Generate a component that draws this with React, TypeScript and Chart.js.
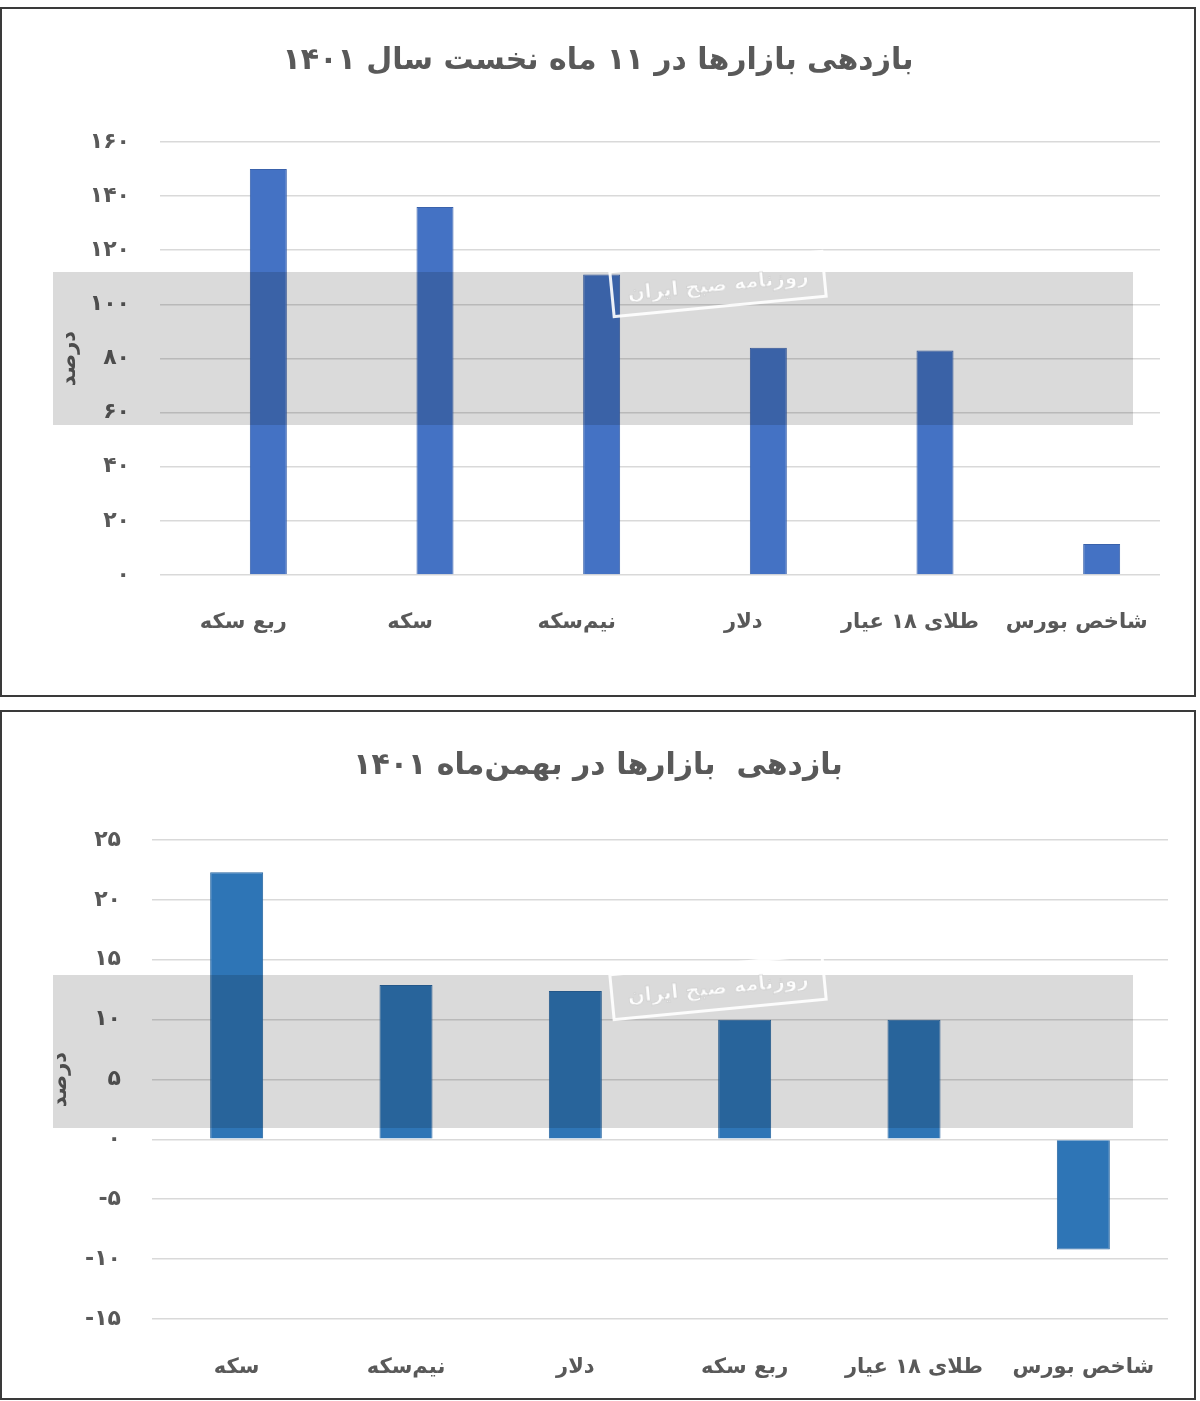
import { useEffect, useRef } from 'react';
import Chart from 'chart.js/auto';

const FONT = '"DejaVu Sans", sans-serif';
const TEXT_GREY = '#595959';
const GRID_GREY = '#d9d9d9';

// top chart: 11 months of 1401
const topTitle = 'بازدهی بازارها در ۱۱ ماه نخست سال ۱۴۰۱';
const topCategories = ['ربع سکه', 'سکه', 'نیم\u200cسکه', 'دلار', 'طلای ۱۸ عیار', 'شاخص بورس'];
const topValues = [150, 136, 111, 84, 83, 11.5];
// the source sheet has an empty first series, which pushes every bar right of its label
const topEmptySeries = [null, null, null, null, null, null];
const topAxis = { min: 0, max: 160, step: 20 };

// bottom chart: Bahman 1401
const bottomTitle = 'بازدهی  بازارها در بهمن\u200cماه ۱۴۰۱';
const bottomCategories = ['سکه', 'نیم\u200cسکه', 'دلار', 'ربع سکه', 'طلای ۱۸ عیار', 'شاخص بورس'];
const bottomValues = [22.3, 12.9, 12.4, 10, 10, -9.2];
const bottomAxis = { min: -15, max: 25, step: 5 };

const yAxisTitle = 'درصد';
const stampText = 'روزنامه صبح ایران';

function toPersianDigits(value: number | string): string {
  return String(value).replace(/\d/g, (d) => '۰۱۲۳۴۵۶۷۸۹'[Number(d)]);
}

interface Layout {
  yWidth: number;
  yTickPad: number;
  yTitlePad: number;
  xHeight: number;
  xTickPad: number;
  titleTop: number;
  titleBottom: number;
  right: number;
  barPct: number;
  catPct: number;
}

interface PanelProps {
  readonly title: string;
  readonly categories: string[];
  readonly values: number[];
  readonly emptySeries?: (number | null)[];
  readonly axis: { min: number; max: number; step: number };
  readonly color: string;
  readonly border: string;
  readonly layout: Layout;
  readonly top: number;
}

function BarPanel({ title, categories, values, emptySeries, axis, color, border, layout, top }: PanelProps) {
  const canvasRef = useRef<HTMLCanvasElement | null>(null);

  useEffect(() => {
    if (!canvasRef.current) {
      return;
    }

    const bars = {
      data: values,
      backgroundColor: color,
      borderColor: border,
      borderWidth: 1,
      barPercentage: layout.barPct,
      categoryPercentage: layout.catPct,
    };
    const datasets = emptySeries
      ? [{ ...bars, data: emptySeries, backgroundColor: 'transparent', borderWidth: 0 }, bars]
      : [bars];

    const chart = new Chart(canvasRef.current, {
      type: 'bar',
      data: {
        labels: categories,
        datasets,
      },
      options: {
        animation: false,
        responsive: false,
        plugins: {
          legend: { display: false },
          tooltip: { enabled: false },
          title: {
            display: true,
            text: title,
            color: TEXT_GREY,
            font: { family: FONT, size: 30, weight: 'bold' },
            padding: { top: layout.titleTop, bottom: layout.titleBottom },
          },
        },
        scales: {
          x: {
            grid: { display: false },
            border: { display: false },
            ticks: {
              color: TEXT_GREY,
              padding: layout.xTickPad,
              font: { family: FONT, size: 21, weight: 'bold' },
            },
            afterFit: (scale) => {
              scale.height = layout.xHeight;
            },
          },
          y: {
            min: axis.min,
            max: axis.max,
            grid: { color: GRID_GREY, lineWidth: 1.6, drawTicks: false },
            border: { display: false },
            ticks: {
              stepSize: axis.step,
              color: TEXT_GREY,
              padding: layout.yTickPad,
              font: { family: FONT, size: 22, weight: 'bold' },
              callback: (value) => toPersianDigits(value),
            },
            title: {
              display: true,
              text: yAxisTitle,
              color: TEXT_GREY,
              font: { family: FONT, size: 21, weight: 'bold' },
              padding: { top: layout.yTitlePad, bottom: 0 },
            },
            afterFit: (scale) => {
              scale.width = layout.yWidth;
            },
          },
          // empty right-hand axis only keeps a margin so the title stays centred on the canvas
          spacer: {
            type: 'linear',
            position: 'right',
            grid: { display: false },
            border: { display: false },
            ticks: { display: false },
            afterFit: (scale) => {
              scale.width = layout.right;
            },
          },
        },
      },
    });

    return () => {
      chart.destroy();
    };
  }, [title, categories, values, emptySeries, axis, color, border, layout]);

  return (
    <div
      style={{
        position: 'absolute',
        left: 0,
        top,
        width: 1196,
        height: 690,
        boxSizing: 'border-box',
        border: '2px solid #3a3a3a',
        background: '#fff',
      }}
    >
      <canvas ref={canvasRef} width={1192} height={686} style={{ display: 'block' }} />
    </div>
  );
}

// the newspaper's watermark band laid over each chart
function Watermark({ top }: { top: number }) {
  return (
    <>
      <div
        style={{
          position: 'absolute',
          left: 53,
          top,
          width: 1080,
          height: 153,
          background: '#dadada',
          mixBlendMode: 'multiply',
          pointerEvents: 'none',
        }}
      />
      <div
        style={{
          position: 'absolute',
          left: 610,
          top: top - 12,
          width: 216,
          height: 48,
          boxSizing: 'border-box',
          border: '3px solid rgba(255,255,255,0.9)',
          transform: 'rotate(-5.5deg)',
          color: 'rgba(255,255,255,0.95)',
          WebkitTextStroke: '0.5px #c4c4c4',
          font: `bold 20px ${FONT}`,
          direction: 'rtl',
          whiteSpace: 'nowrap',
          textAlign: 'center',
          lineHeight: '42px',
          pointerEvents: 'none',
        }}
      >
        {stampText}
      </div>
    </>
  );
}

const topLayout: Layout = {
  yWidth: 158,
  yTickPad: 30,
  yTitlePad: 55,
  xHeight: 120,
  xTickPad: 27,
  titleTop: 34,
  titleBottom: 63,
  right: 34,
  barPct: 0.74,
  catPct: 0.6,
};

const bottomLayout: Layout = {
  yWidth: 150,
  yTickPad: 31,
  yTitlePad: 46,
  xHeight: 79,
  xTickPad: 28,
  titleTop: 36,
  titleBottom: 56,
  right: 26,
  barPct: 0.313,
  catPct: 1,
};

export default function App() {
  useEffect(() => {
    document.body.style.margin = '0';
  }, []);

  return (
    <div style={{ position: 'relative', width: 1200, height: 1401, overflow: 'hidden', background: '#fff' }}>
      <BarPanel
        title={topTitle}
        categories={topCategories}
        values={topValues}
        emptySeries={topEmptySeries}
        axis={topAxis}
        color="#4472C4"
        border="#3a62ab"
        layout={topLayout}
        top={7}
      />
      <Watermark top={272} />
      <BarPanel
        title={bottomTitle}
        categories={bottomCategories}
        values={bottomValues}
        axis={bottomAxis}
        color="#2E75B6"
        border="#2866a0"
        layout={bottomLayout}
        top={710}
      />
      <Watermark top={975} />
    </div>
  );
}
